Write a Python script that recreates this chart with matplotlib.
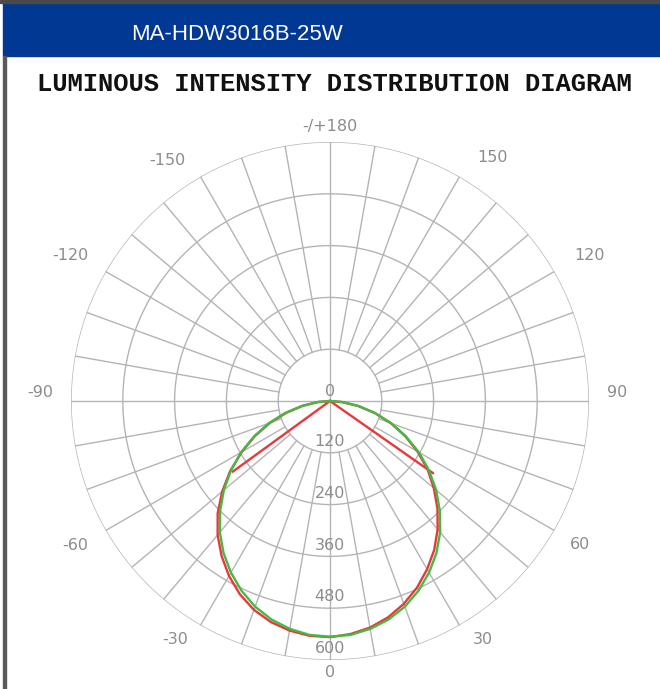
import numpy as np
import matplotlib
matplotlib.use("Agg")
import matplotlib.pyplot as plt
from matplotlib.patches import Rectangle

# data (cd), angle 0 = straight down, positive to the right
angles = list(range(-90, 91, 5))
green_cd = [0, 29, 67, 108, 151, 194, 238, 280, 321, 360, 397, 430, 459, 485,
            507, 524, 536, 544, 546,
            544, 536, 524, 507, 485, 459, 430, 397, 360, 321, 280, 238, 194,
            151, 108, 67, 29, 0]
red_cd = [0, 28, 64, 104, 148, 192, 236, 282, 326, 368, 405, 438, 468, 494,
          515, 530, 540, 546, 547,
          542, 533, 519, 500, 477, 450, 421, 388, 352, 314, 276, 234, 192,
          150, 108, 66, 29, 0]
# second red plane: cut off sharply at about +-55 deg
red_v_angles = [-54, 0, 55]
red_v_cd = [278, 0, 291]

ring_values = [120, 240, 360, 480, 600]
angle_labels = ["0", "30", "60", "90", "120", "150", "-/+180",
                "-150", "-120", "-90", "-60", "-30"]
# where each label sits (deg, cd)
label_theta = [0, 32.6, 60.1, 91.6, 119.3, 146.2, 180,
               -145.9, -119.3, -91.6, -60.5, -33]
label_r = [630, 657, 668, 665, 690, 678, 637, 674, 690, 672, 678, 660]

title = "MA-HDW3016B-25W"
subtitle = "LUMINOUS INTENSITY DISTRIBUTION DIAGRAM"

grid_col = "#b4b4b4"
label_col = "#8c8c8c"

fig = plt.figure(figsize=(6.6, 6.89), dpi=100)

# header bar and frame
fig.patches.append(Rectangle((3 / 660, 633 / 689), 1, 53 / 689,
                             transform=fig.transFigure, color="#013893", zorder=0))
fig.patches.append(Rectangle((0, 686 / 689), 1, 3 / 689,
                             transform=fig.transFigure, color="#4a4a4a", zorder=0))
fig.patches.append(Rectangle((3 / 660, 0), 3 / 660, 633 / 689,
                             transform=fig.transFigure, color="#5a5a5a", zorder=0))
fig.text(237 / 660, 1 - 34 / 689, title, color="white", fontsize=16,
         family="Liberation Sans", ha="center", va="center")
fig.text(334 / 660, 1 - 84 / 689, subtitle, color="#111111", fontsize=18.4,
         family="Liberation Mono", weight="bold", ha="center", va="center")

ax = fig.add_axes([71 / 660, 29 / 689, 518 / 660, 518 / 689], projection="polar")
ax.set_theta_zero_location("S")
ax.set_theta_direction(1)
ax.set_ylim(0, 600)
ax.grid(False)
ax.set_xticks([])
ax.set_yticks([])
ax.spines["polar"].set_visible(False)
ax.patch.set_alpha(0)

# grid: rings and spokes
t = np.linspace(0, 2 * np.pi, 721)
for v in ring_values:
    ax.plot(t, np.full_like(t, v), color=grid_col, lw=1.0, zorder=1)
for a in range(0, 360, 10):
    th = np.deg2rad(a)
    r0 = 0 if a % 90 == 0 else ring_values[0]
    ax.plot([th, th], [r0, 600], color=grid_col, lw=1.0, zorder=1)

# labels
for s, a, r in zip(angle_labels, label_theta, label_r):
    ax.text(np.deg2rad(a), r, s, color=label_col, fontsize=11.5,
            family="DejaVu Sans", ha="center", va="center", clip_on=False)
ax.text(np.pi, 22, "0", color=label_col, fontsize=11.5, family="DejaVu Sans",
        ha="center", va="center")
for v in ring_values:
    ax.text(0, v - 26, str(v), color=label_col, fontsize=11.5,
            family="DejaVu Sans", ha="center", va="center", zorder=2)

# curves
ax.plot(np.deg2rad(angles), red_cd, color="#e8383c", lw=1.7, zorder=3)
ax.plot(np.deg2rad(red_v_angles), red_v_cd, color="#e8383c", lw=1.7, zorder=3)
ax.plot(np.deg2rad(angles), green_cd, color="#45b845", lw=1.7, zorder=4)

fig.savefig("out.png", dpi=100)
